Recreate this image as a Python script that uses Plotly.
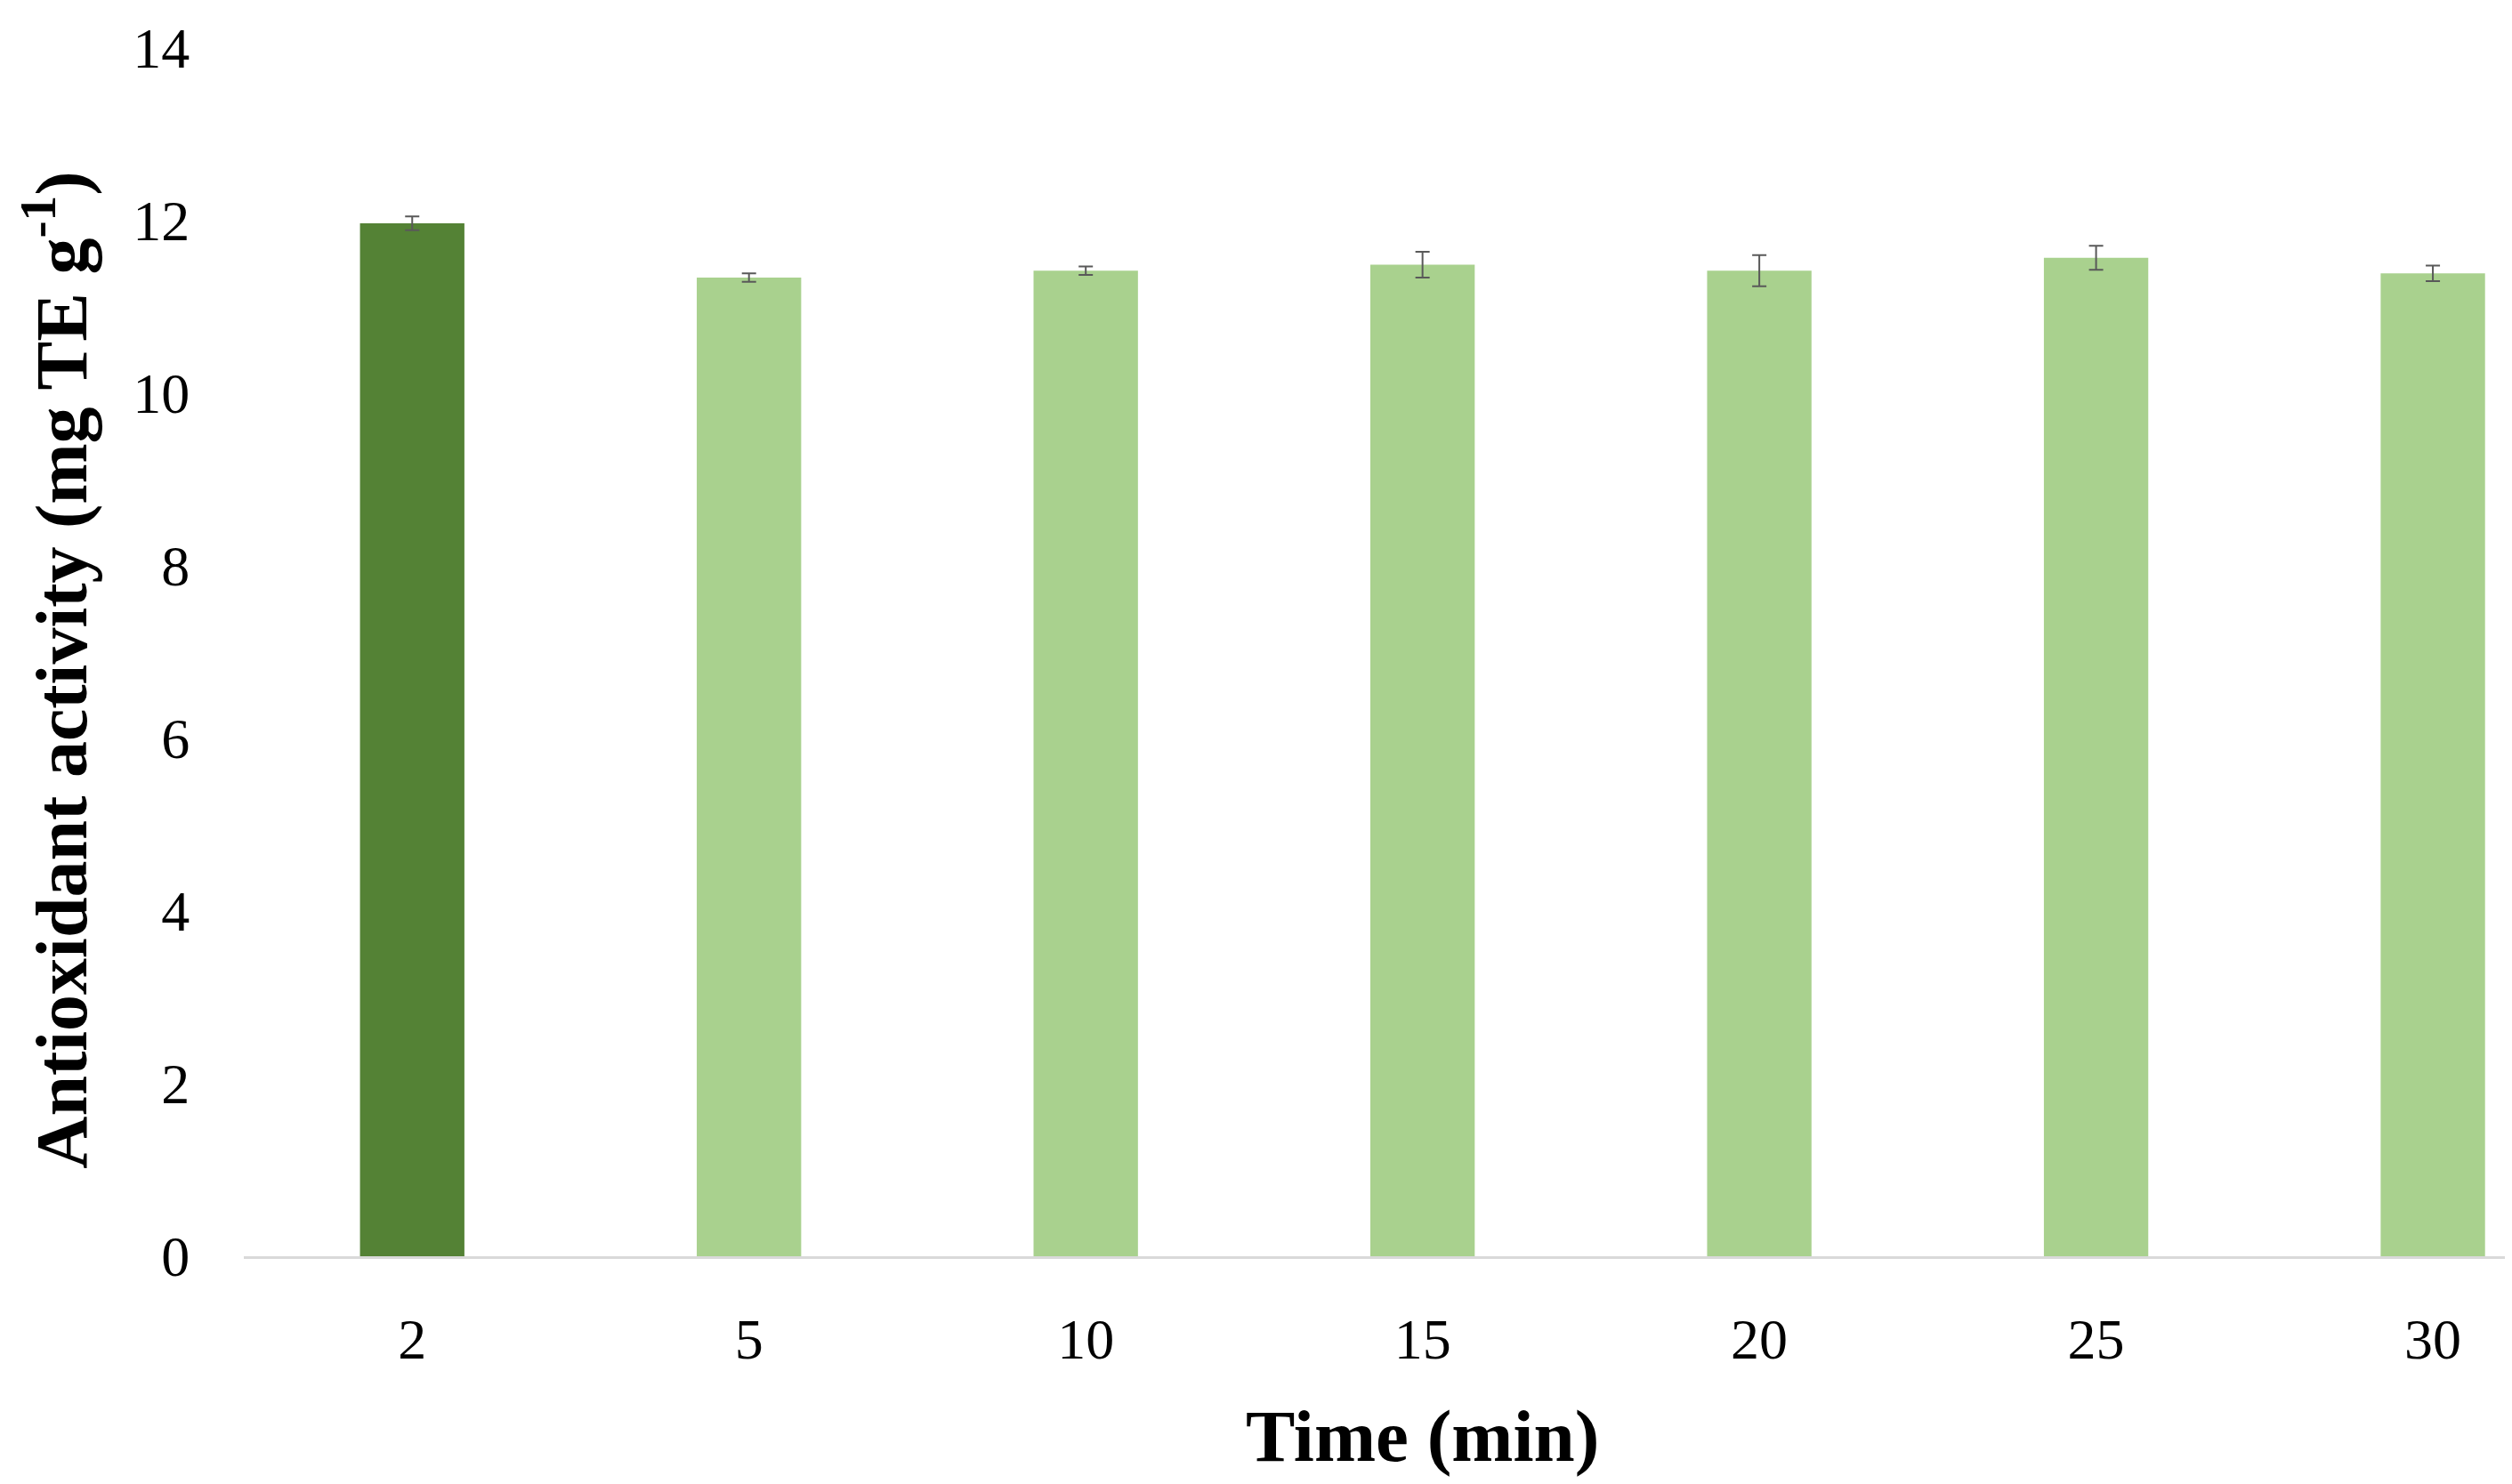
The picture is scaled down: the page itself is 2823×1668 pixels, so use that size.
import plotly.graph_objects as go

# Data
times = ["2", "5", "10", "15", "20", "25", "30"]
activity = [11.97, 11.34, 11.42, 11.49, 11.42, 11.57, 11.39]
errors = [0.08, 0.05, 0.05, 0.15, 0.18, 0.14, 0.09]
colors = ["#548235", "#A9D18E", "#A9D18E", "#A9D18E", "#A9D18E", "#A9D18E", "#A9D18E"]

font_family = "Liberation Serif"

fig = go.Figure()

fig.add_trace(go.Bar(
    x=times,
    y=activity,
    marker_color=colors,
    marker_line_width=0,
    error_y=dict(type="data", array=errors, visible=True,
                 color="#595959", thickness=2, width=8),
    showlegend=False,
))

# x title sits centred under the middle category (the plot runs past the right edge)
fig.add_annotation(
    text="<b>Time (min)</b>",
    xref="x", yref="paper",
    x=3, y=-0.149,
    xanchor="center", yanchor="middle",
    showarrow=False,
    font=dict(size=83, family=font_family, color="black"),
)

# y title, placed by hand so it sits a little below the plot centre like the original
fig.add_annotation(
    text="<b>Antioxidant activity (mg TE g<sup>-1</sup>)</b>",
    xref="paper", yref="paper",
    x=-0.083, y=0.485,
    xanchor="center", yanchor="middle",
    textangle=-90,
    showarrow=False,
    font=dict(size=82, family=font_family, color="black"),
)

fig.update_layout(
    width=2815,
    height=1660,
    margin=dict(l=266, r=0, t=46, b=256),
    paper_bgcolor="white",
    plot_bgcolor="white",
    bargap=0.69,
    font=dict(family=font_family, color="black"),
    xaxis=dict(
        type="category",
        range=[-0.5, 6.235],
        showgrid=False,
        showline=True,
        linecolor="#d9d9d9",
        linewidth=3,
        ticks="outside",
        ticklen=35,
        tickcolor="rgba(0,0,0,0)",
        tickfont=dict(size=64, family=font_family),
        automargin=False,
    ),
    yaxis=dict(
        range=[0, 14],
        tickvals=[0, 2, 4, 6, 8, 10, 12, 14],
        showgrid=False,
        zeroline=False,
        showline=False,
        ticks="outside",
        ticklen=47,
        tickcolor="rgba(0,0,0,0)",
        tickfont=dict(size=64, family=font_family),
        automargin=False,
    ),
)

fig.write_html("out.html")
